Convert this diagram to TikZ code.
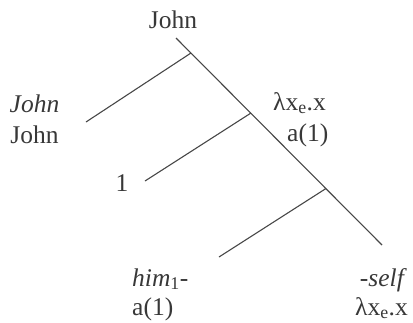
\documentclass[tikz,border=0pt]{standalone}
\usepackage{fontspec}
\setmainfont{Liberation Serif}
\begin{document}
\begin{tikzpicture}[x=1pt,y=-1pt,
  branch/.style={draw=black!72,line width=1.1pt},
  lbl/.style={inner sep=0pt,text=black!78,font=\fontsize{25.5}{30}\selectfont}]
\useasboundingbox (0,0) rectangle (413,322);
% tree points
\coordinate (root) at (176,38);
\coordinate (n1) at (191,53);
\coordinate (n2) at (251,113);
\coordinate (n3) at (326,188.5);
\coordinate (self) at (382,245);
\coordinate (lj) at (86,122);
\coordinate (l1) at (145,181);
\coordinate (lh) at (219,257);
\draw[branch] (root) -- (self);
\draw[branch] (n1) -- (lj);
\draw[branch] (n2) -- (l1);
\draw[branch] (n3) -- (lh);
% labels
\node[lbl,anchor=base] (top) at (173,28) {John};
\node[lbl,anchor=base] (jit) at (34.5,112) {\textit{John}};
\node[lbl,anchor=base] (jup) at (34.5,143) {John};
\node[lbl,anchor=base west] (lam1) at (273,110) {λx\textsubscript{e}.x};
\node[lbl,anchor=base west] (a1) at (287,141) {a(1)};
\node[lbl,anchor=base] (one) at (122,191) {1};
\node[lbl,anchor=base west] (him) at (132,286) {\textit{him}\textsubscript{1}-};
\node[lbl,anchor=base west] (a2) at (132,315) {a(1)};
\node[lbl,anchor=base east] (slf) at (407,286) {\textit{-self}};
\node[lbl,anchor=base east] (lam2) at (408,315) {λx\textsubscript{e}.x};
\end{tikzpicture}
\end{document}
